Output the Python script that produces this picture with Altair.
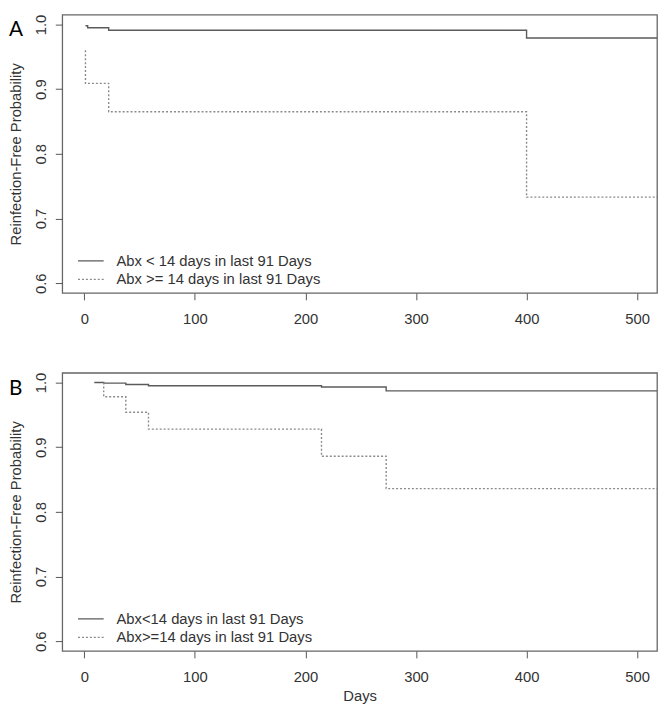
import altair as alt
import pandas as pd

# ---- data ----
# Panel A
a_labels = ["Abx < 14 days in last 91 Days", "Abx >= 14 days in last 91 Days"]
a_low_days = [1, 3, 22, 400, 520]
a_low_surv = [0.998, 0.995, 0.991, 0.979, 0.979]
a_high_days = [1, 1, 22, 400, 520]
a_high_surv = [0.960, 0.909, 0.865, 0.733, 0.733]

# Panel B
b_labels = ["Abx<14 days in last 91 Days", "Abx>=14 days in last 91 Days"]
b_low_days = [9, 17.5, 37.5, 58, 214.5, 273, 520]
b_low_surv = [1.000, 0.999, 0.997, 0.995, 0.993, 0.987, 0.987]
b_high_days = [17.5, 17.5, 37.5, 58, 214.5, 273, 520]
b_high_surv = [1.000, 0.978, 0.954, 0.928, 0.886, 0.836, 0.836]

x_ticks = [0, 100, 200, 300, 400, 500]
y_ticks = [0.6, 0.7, 0.8, 0.9, 1.0]

FONT = "Liberation Sans"
TXT = "#333333"
W, H = 603, 282


def panel(labels, low_d, low_s, high_d, high_s, letter, xtitle):
    rows = []
    for lab, ds, ss in [(labels[0], low_d, low_s), (labels[1], high_d, high_s)]:
        for i, (d, s) in enumerate(zip(ds, ss)):
            rows.append({"day": d, "surv": s, "group": lab, "idx": i})
    df = pd.DataFrame(rows)

    leg = alt.Legend(
        title=None, orient="none", legendX=21.5, legendY=242,
        symbolType="M-2,0H2", symbolSize=169, symbolStrokeWidth=1.3,
        labelFontSize=15, labelFont=FONT, labelColor=TXT, labelOffset=18.5,
        labelLimit=500, rowPadding=2.7, padding=0,
    )
    xaxis_kwargs = dict(
        values=x_ticks, tickSize=7, labelPadding=12, domain=False, grid=False,
        tickColor="#555555", labelColor=TXT, labelFont=FONT, labelFontSize=15,
        labelFlush=False, titleFont=FONT, titleFontSize=15, titleFontWeight="normal",
        titleColor=TXT, titlePadding=4,
    )
    if xtitle:
        xaxis = alt.Axis(title=xtitle, **xaxis_kwargs)
    else:
        xaxis = alt.Axis(title=None, **xaxis_kwargs)

    lines = alt.Chart(df).mark_line(
        interpolate="step-after", clip=True, strokeWidth=1.4
    ).encode(
        x=alt.X("day:Q", scale=alt.Scale(domain=[-20, 518], nice=False, zero=False), axis=xaxis),
        y=alt.Y(
            "surv:Q",
            scale=alt.Scale(domain=[0.585, 1.015], nice=False, zero=False),
            axis=alt.Axis(
                title="Reinfection-Free Probability", values=y_ticks, format=".1f",
                labelAngle=270, labelAlign="center", labelBaseline="bottom",
                tickSize=7, labelPadding=7, domain=False, grid=False,
                tickColor="#555555", labelColor=TXT, labelFont=FONT, labelFontSize=15,
                titleFont=FONT, titleFontSize=15, titleFontWeight="normal",
                titleColor=TXT, titlePadding=10,
            ),
        ),
        color=alt.Color("group:N", scale=alt.Scale(domain=labels, range=["#5a5a5a", "#8a8a8a"]), legend=leg),
        strokeDash=alt.StrokeDash("group:N", scale=alt.Scale(domain=labels, range=[[1, 0], [2, 2]]), legend=leg),
        order=alt.Order("idx:Q"),
    )

    letter_df = pd.DataFrame({"t": [letter]})
    tag = alt.Chart(letter_df).mark_text(
        align="left", baseline="top", fontSize=21, font="Lato", color="#000000"
    ).encode(x=alt.value(-54), y=alt.value(5), text="t:N")

    return alt.layer(lines, tag).properties(width=W, height=H)


pa = panel(a_labels, a_low_days, a_low_surv, a_high_days, a_high_surv, "A", None)
pb = panel(b_labels, b_low_days, b_low_surv, b_high_days, b_high_surv, "B", "Days")

chart = alt.vconcat(pa, pb, spacing=44).resolve_scale(
    color="independent", strokeDash="independent"
).resolve_legend(
    color="independent", strokeDash="independent"
).properties(
    padding={"left": 0, "top": 0, "right": 0, "bottom": 0}
).configure_view(stroke="#666666", strokeWidth=1.3)

chart.save("out.html", embed_options={"renderer": "svg", "actions": False})
